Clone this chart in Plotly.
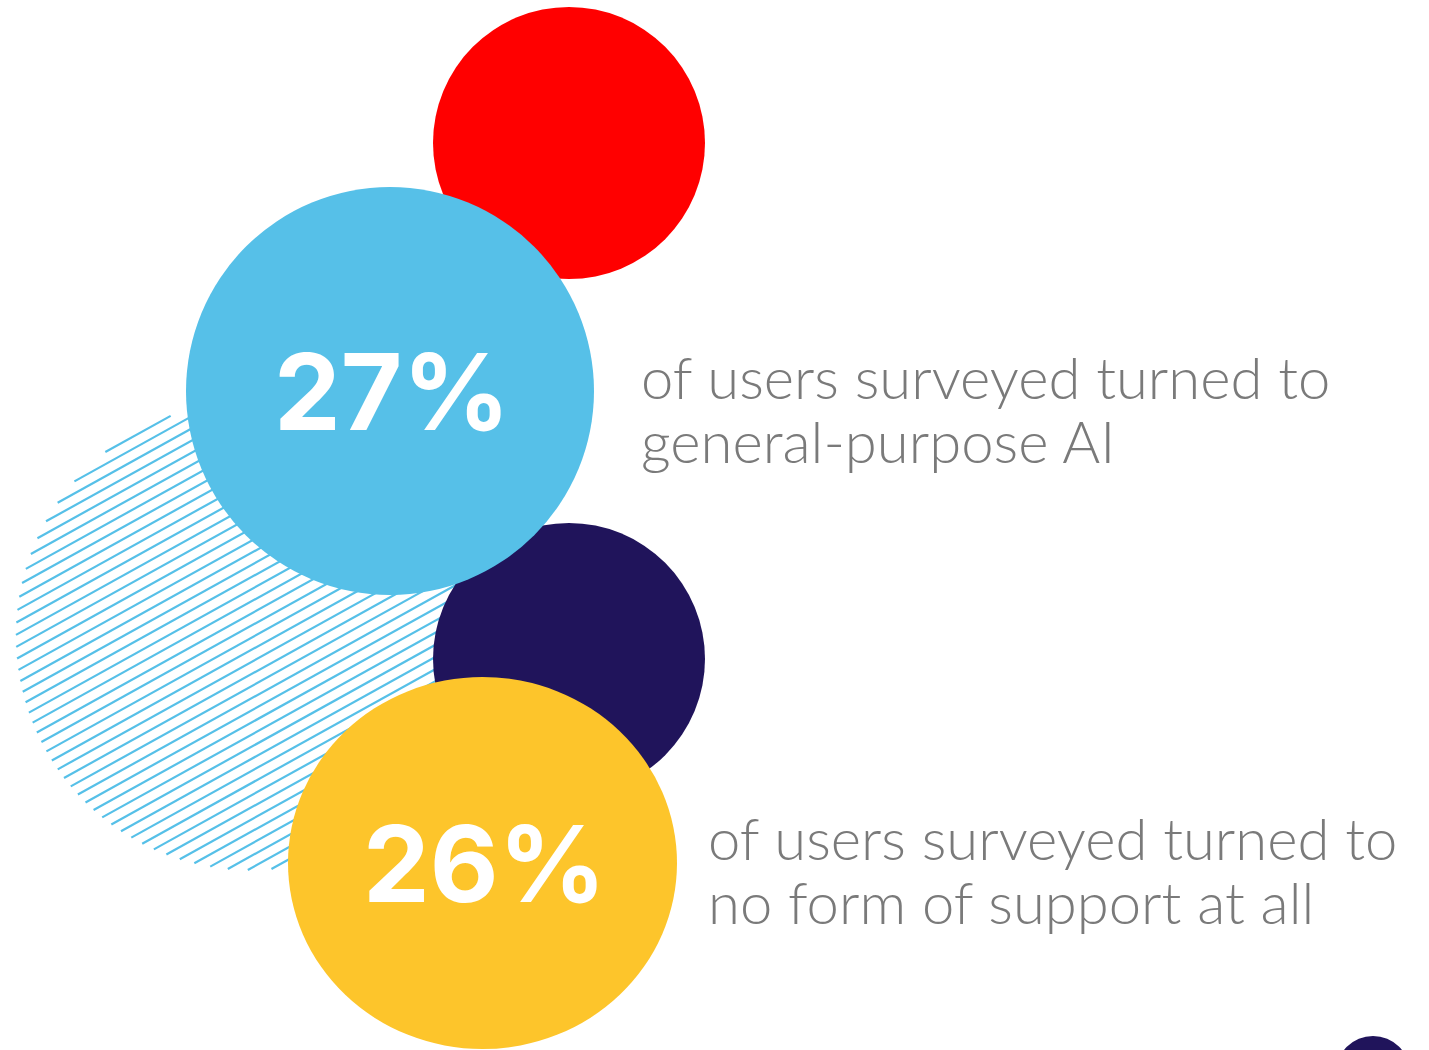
import numpy as np
import plotly.graph_objects as go

# Survey figures shown in the two big discs
percentages = [27, 26]
caption_lines = [
    ["of users surveyed turned to", "general-purpose AI"],
    ["of users surveyed turned to", "no form of support at all"],
]

W, H = 1429, 1050

# Disc layout (page pixel coordinates, y grows downward)
stat_discs = [
    dict(cx=390, cy=391, rx=204, ry=204, color="#56C0E8"),
    dict(cx=482.5, cy=863, rx=194.5, ry=186, color="#FDC52B"),
]
decor_discs_below = [
    dict(cx=569, cy=143, rx=136, ry=136, color="#FF0000"),
    dict(cx=569, cy=659, rx=136, ry=136, color="#20145B"),
]
decor_discs_above = [
    dict(cx=1373, cy=1073, rx=37, ry=37, color="#20145B"),
]
hatch_disc = dict(cx=250, cy=636, r=234, color="#56C0E8", angle=29, gap=10.6)
caption_pos = [(639, 376), (706, 837)]
line_gap = 64

fig = go.Figure()

# Striped disc: parallel segments clipped to the circle
ang = np.radians(hatch_disc["angle"])
d = np.array([np.cos(ang), -np.sin(ang)])
n = np.array([np.sin(ang), np.cos(ang)])
c = np.array([hatch_disc["cx"], hatch_disc["cy"]])
R = hatch_disc["r"]
xs, ys = [], []
for s in np.arange(-R + 3, R, hatch_disc["gap"]):
    h = np.sqrt(R * R - s * s)
    p = c + s * n
    a, b = p - h * d, p + h * d
    xs += [a[0], b[0], None]
    ys += [a[1], b[1], None]
fig.add_trace(go.Scatter(x=xs, y=ys, mode="lines",
                         line=dict(color=hatch_disc["color"], width=2.2),
                         hoverinfo="skip", showlegend=False))

shapes = []


def disc(dd):
    return dict(type="circle", xref="x", yref="y",
                x0=dd["cx"] - dd["rx"], x1=dd["cx"] + dd["rx"],
                y0=dd["cy"] - dd["ry"], y1=dd["cy"] + dd["ry"],
                fillcolor=dd["color"], line=dict(width=0), layer="above")


for dd in decor_discs_below:
    shapes.append(disc(dd))
for dd in stat_discs:
    shapes.append(disc(dd))
for dd in decor_discs_above:
    shapes.append(disc(dd))

annotations = []
for val, dd in zip(percentages, stat_discs):
    annotations.append(dict(
        x=dd["cx"] + 2, y=dd["cy"], xref="x", yref="y",
        text=f"<b>{val}%</b>", showarrow=False,
        xanchor="center", yanchor="middle",
        font=dict(family="Inter", size=106, color="white", weight=900),
    ))

for lines, (x, y) in zip(caption_lines, caption_pos):
    for i, t in enumerate(lines):
        annotations.append(dict(
            x=x, y=y + i * line_gap, xref="x", yref="y",
            text=t, showarrow=False, xanchor="left", yanchor="middle",
            font=dict(family="Lato", size=58, color="#7A7A7A", weight=300),
        ))

fig.update_layout(
    width=W, height=H,
    margin=dict(l=0, r=0, t=0, b=0),
    paper_bgcolor="white", plot_bgcolor="white",
    xaxis=dict(range=[0, W], visible=False, fixedrange=True),
    yaxis=dict(range=[H, 0], visible=False, fixedrange=True),
    shapes=shapes, annotations=annotations,
    showlegend=False,
)

fig.write_html("out.html", config={"displayModeBar": False})
